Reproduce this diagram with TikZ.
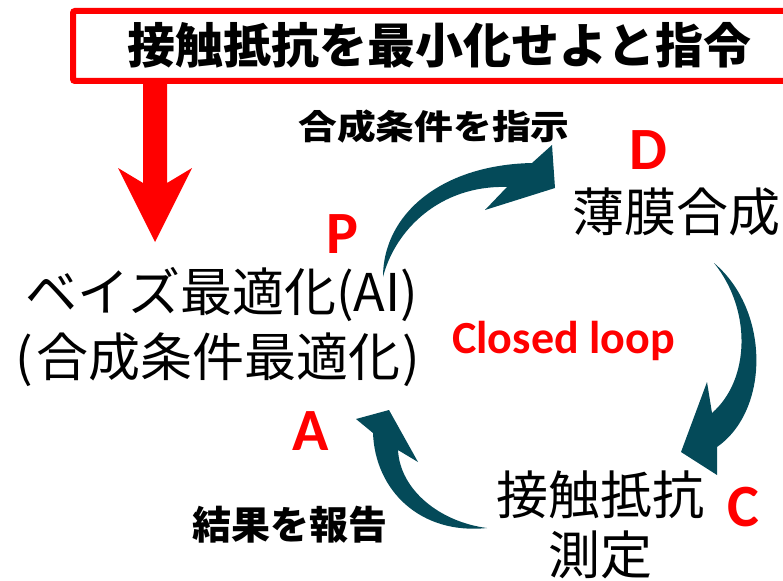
\documentclass[tikz,border=0pt]{standalone}
\usepackage{fontspec}
\newfontfamily\jpfont{Noto Sans CJK JP}
\newfontfamily\calfont{Carlito}
\definecolor{teal}{RGB}{4,74,89}
\definecolor{pured}{RGB}{255,0,0}
\begin{document}
\begin{tikzpicture}[x=1pt,y=-1pt,
  every node/.style={inner sep=0pt},
  jpreg/.style={font=\jpfont\fontsize{52}{56}\selectfont},
  jpbold/.style={font=\jpfont\bfseries\fontsize{#1}{#1}\selectfont},
  letter/.style={text=pured,font=\calfont\bfseries\fontsize{60}{60}\selectfont},
  curvearrow/.style={fill=teal,draw=none}]
\useasboundingbox (0,0) rectangle (783,580);
\clip (0,0) rectangle (783,580);

% top instruction box
\draw[pured,line width=6pt,rounded corners=2pt] (73,11) rectangle (800,81);
\node[jpbold=48] (order) at (439,45) {接触抵抗を最小化せよと指令};

% red down arrow
\fill[pured] (143,82) -- (167,82) -- (167,183) -- (192,168) -- (155,242) -- (118,168) -- (143,183) -- cycle;

% labels
\node[jpreg] (bayes1) at (222,295) {ベイズ最適化(AI)};
\node[jpreg] (bayes2) at (218,360) {(\kern3pt合成条件最適化\kern2pt)};
\node[jpreg] (synth) at (676,212) {薄膜合成};
\node[jpreg] (meas1) at (600,495) {接触抵抗};
\node[jpreg] (meas2) at (600,555) {測定};

\node[jpbold=34,xscale=1.14] (instr) at (434,127) {合成条件を指示};
\node[jpbold=39] (report) at (290,525) {結果を報告};

\node[letter] (D) at (648,150) {D};
\node[letter] (P) at (342,234) {P};
\node[letter] (A) at (311,431) {A};
\node[letter] (C) at (743,507) {C};
\node[text=pured,font=\calfont\bfseries\fontsize{46}{46}\selectfont,anchor=base] (loop) at (563.5,353) {Closed loop};

% curved arrows
\fill[curvearrow] (383,277) .. controls (383,215) and (440,165) .. (532,163)
  -- (552,145) -- (555,188) -- (485,210) -- (507,187)
  .. controls (440,185) and (395,230) .. (383,277) -- cycle;

\fill[curvearrow] (714,263) .. controls (770,310) and (770,410) .. (717,447)
  -- (717,475) -- (681,452) -- (707,382) -- (712,413)
  .. controls (750,380) and (752,310) .. (714,263) -- cycle;

\fill[curvearrow] (487,528) .. controls (420,535) and (375,490) .. (373,433)
  -- (356,419) -- (389,410) -- (418,462) -- (398,450)
  .. controls (400,490) and (440,522) .. (487,528) -- cycle;
\end{tikzpicture}
\end{document}
